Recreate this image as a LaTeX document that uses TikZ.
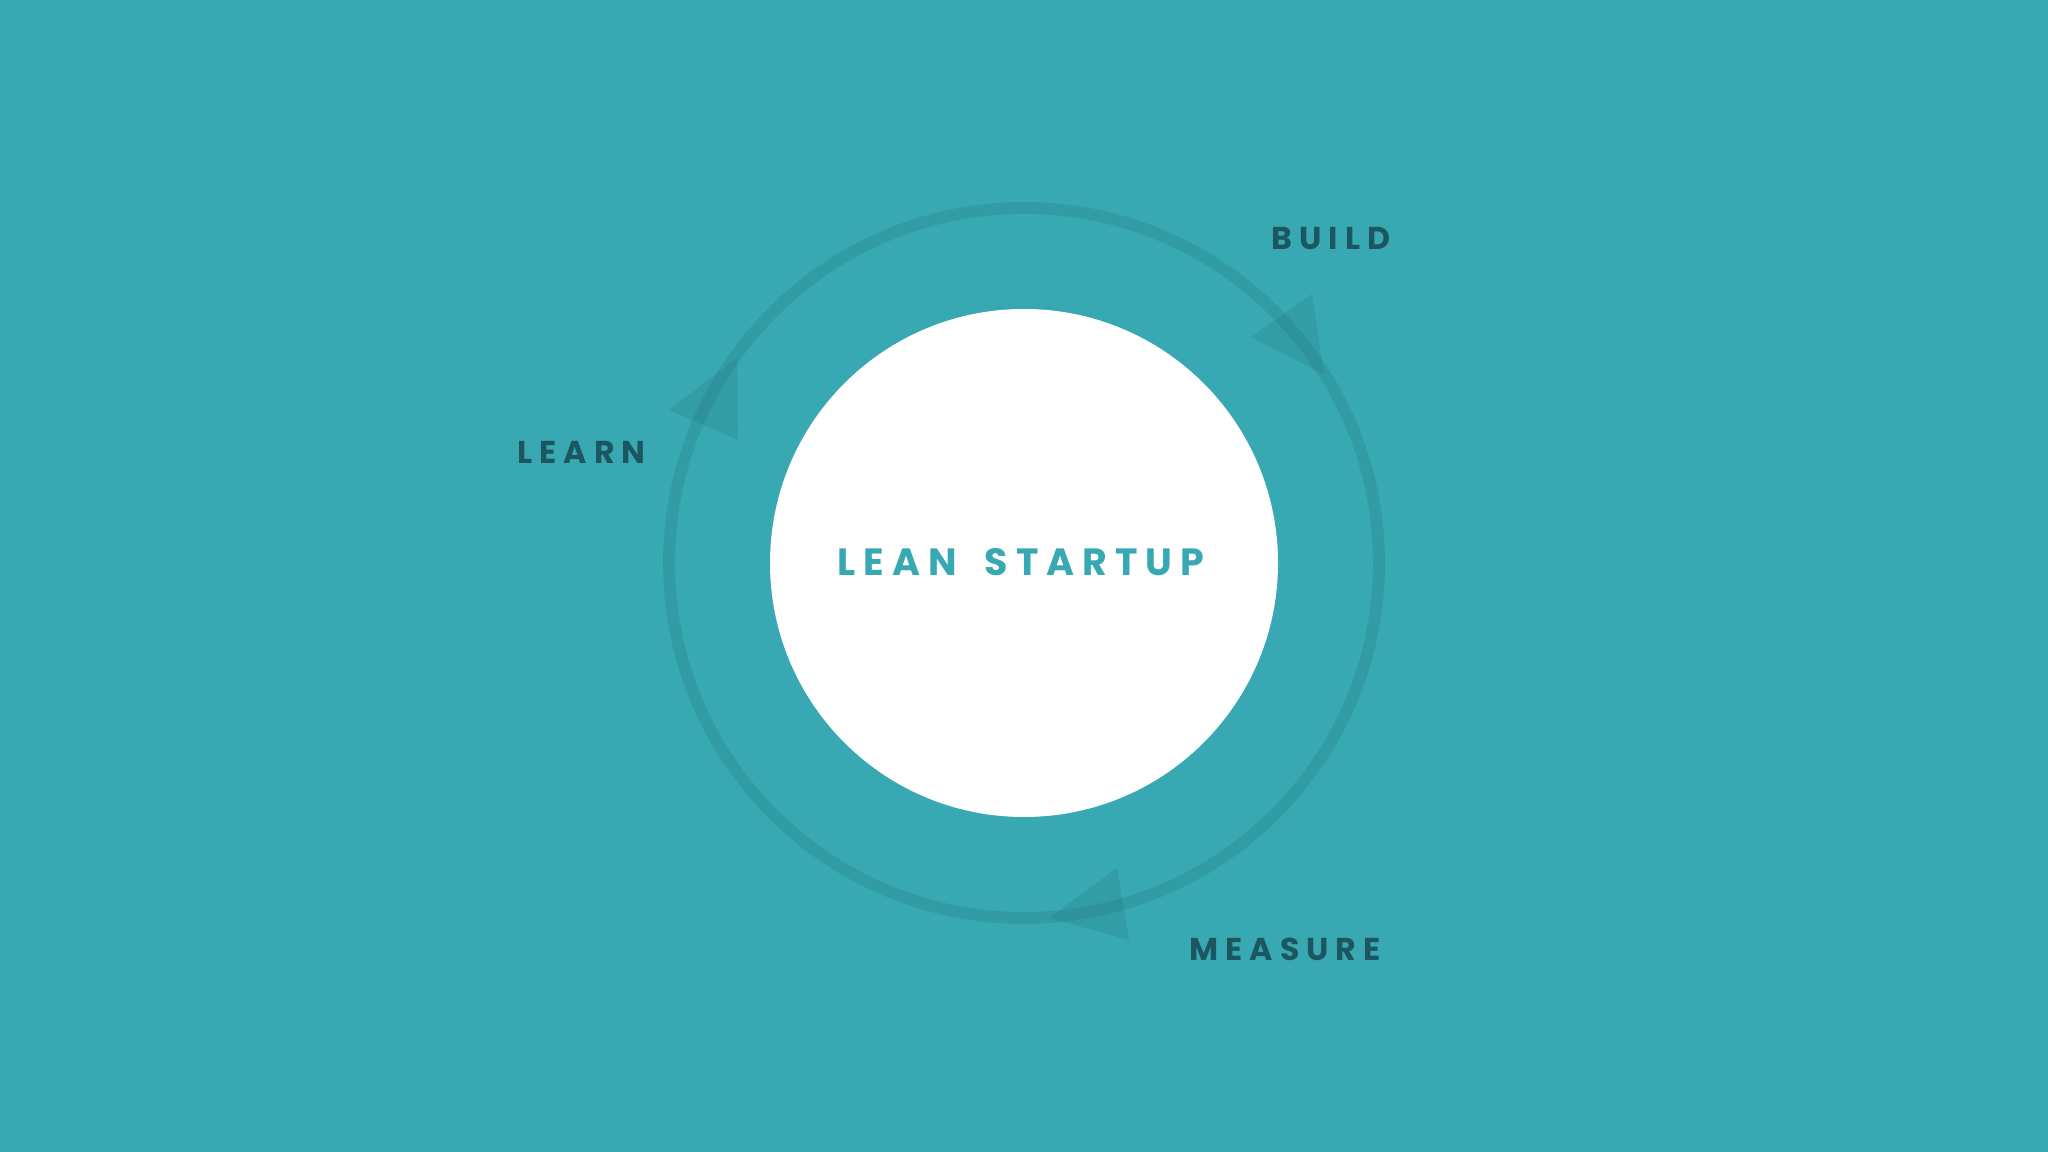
\documentclass[tikz,border=0pt]{standalone}
\usepackage{fontspec}
\setmainfont{Poppins}
\usetikzlibrary{positioning}
\definecolor{bgteal}{HTML}{38A9B2}
\definecolor{ringteal}{HTML}{1F6E78}
\definecolor{darkteal}{HTML}{1C5761}
\definecolor{coreteal}{HTML}{38A8B2}

\begin{document}
\begin{tikzpicture}[x=0.1mm,y=-0.1mm,
    stage/.style={font=\fontsize{9}{9}\selectfont\bfseries\addfontfeature{LetterSpace=22},
        text=darkteal, inner sep=0pt, anchor=west},
    tip/.style={fill=ringteal, fill opacity=0.2}]
            % Background
            \fill[bgteal] (0,0) rectangle (2048,1152);
            \useasboundingbox (0,0) rectangle (2048,1152);
            % Cycle ring
            \draw[ringteal, opacity=0.22, line width=3.4pt] (1024,563) circle (355);
            % Arrow heads on the ring
            \fill[tip] (1312,294) -- (1251,337) -- (1324,375) -- cycle;
            \fill[tip] (737,358) -- (669,410) -- (738,440) -- cycle;
            \fill[tip] (1117,868) -- (1049,918) -- (1129,940) -- cycle;
            % Core
            \node[circle, fill=white, minimum size=50.8mm, inner sep=0pt] (core) at (1024,563) {};
            \node[font=\fontsize{10.8}{10.8}\selectfont\bfseries\addfontfeature{LetterSpace=21},
                text=coreteal, inner sep=0pt, anchor=west] (title) at (837,562) {LEAN\hspace{8pt}STARTUP};
            % Stage labels
            \node[stage] (build) at (1271,239) {BUILD};
            \node[stage] (learn) at (517,452) {LEARN};
            \node[stage] (measure) at (1189,949) {MEASURE};
\end{tikzpicture}
\end{document}
